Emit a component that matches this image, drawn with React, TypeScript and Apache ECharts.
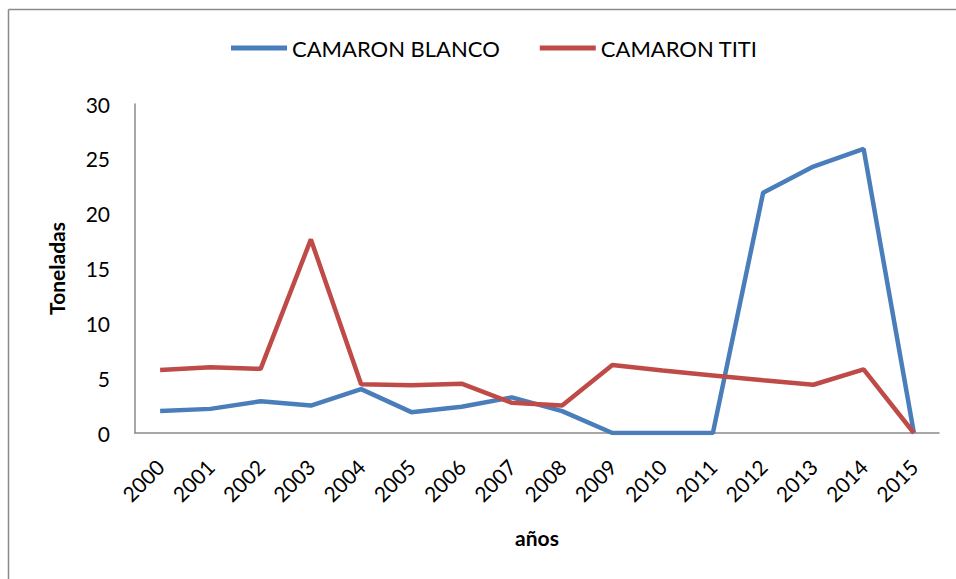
import React, { useEffect, useRef } from "react";
import * as echarts from "echarts";

const years = ["2000","2001","2002","2003","2004","2005","2006","2007","2008","2009","2010","2011","2012","2013","2014","2015"];
const camaronBlanco = [2.0, 2.2, 2.9, 2.5, 4.0, 1.9, 2.4, 3.25, 2.0, 0, 0, 0, 21.9, 24.3, 25.9, 0];
const camaronTiti = [5.75, 6.0, 5.85, 17.65, 4.45, 4.35, 4.5, 2.75, 2.5, 6.2, 5.7, 5.25, 4.8, 4.4, 5.8, 0];
const seriesNames = ["CAMARON BLANCO", "CAMARON TITI"];
const yTicks = { min: 0, max: 30, interval: 5 };

const FONT = "Lato, 'Open Sans', sans-serif";

export default function App() {
  const ref = useRef<HTMLDivElement>(null);
  useEffect(() => {
    if (!ref.current) return;
    const chart = echarts.init(ref.current, undefined, { renderer: "svg" });
    chart.setOption({
      animation: false,
      backgroundColor: "#ffffff",
      textStyle: { fontFamily: FONT },
      graphic: [
        { type: "line", shape: { x1: 8.5, y1: 9.5, x2: 960, y2: 9.5 }, style: { stroke: "#8a8a8a", lineWidth: 1.5 } },
        { type: "line", shape: { x1: 8.5, y1: 9.5, x2: 8.5, y2: 590 }, style: { stroke: "#8a8a8a", lineWidth: 1.5 } },
      ],
      legend: {
        left: 226,
        top: 32,
        itemWidth: 56,
        itemHeight: 5,
        itemGap: 40,
        icon: "rect",
        textStyle: { fontFamily: FONT, fontSize: 22, color: "#000" },
        data: seriesNames,
      },
      grid: { left: 135, right: 17, top: 104, bottom: 146, containLabel: false },
      xAxis: {
        type: "category",
        data: years,
        boundaryGap: true,
        name: "años",
        nameLocation: "middle",
        nameGap: 94,
        nameTextStyle: { fontFamily: FONT, fontSize: 21, fontWeight: "bold", color: "#000" },
        axisLine: { lineStyle: { color: "#8a8a8a", width: 1.5 } },
        axisTick: { show: false },
        axisLabel: { rotate: 45, fontFamily: FONT, fontSize: 21, color: "#000", margin: 30, interval: 0 },
      },
      yAxis: {
        type: "value",
        min: yTicks.min,
        max: yTicks.max,
        interval: yTicks.interval,
        name: "Toneladas",
        nameLocation: "middle",
        nameGap: 68,
        nameTextStyle: { fontFamily: FONT, fontSize: 21, fontWeight: "bold", color: "#000" },
        axisLine: { show: true, lineStyle: { color: "#8a8a8a", width: 1.5 } },
        axisTick: { show: false },
        splitLine: { show: false },
        axisLabel: { fontFamily: FONT, fontSize: 21, color: "#000", margin: 25 },
      },
      series: [
        {
          name: seriesNames[0],
          type: "line",
          data: camaronBlanco,
          symbol: "none",
          lineStyle: { color: "#4a7ebb", width: 4.5 },
          itemStyle: { color: "#4a7ebb" },
        },
        {
          name: seriesNames[1],
          type: "line",
          data: camaronTiti,
          symbol: "none",
          lineStyle: { color: "#be4b48", width: 4.5 },
          itemStyle: { color: "#be4b48" },
        },
      ],
    });
    return () => chart.dispose();
  }, []);
  return (
    <div
      ref={ref}
      style={{ position: "absolute", left: 0, top: 0, width: 956, height: 579, background: "#fff" }}
    />
  );
}
